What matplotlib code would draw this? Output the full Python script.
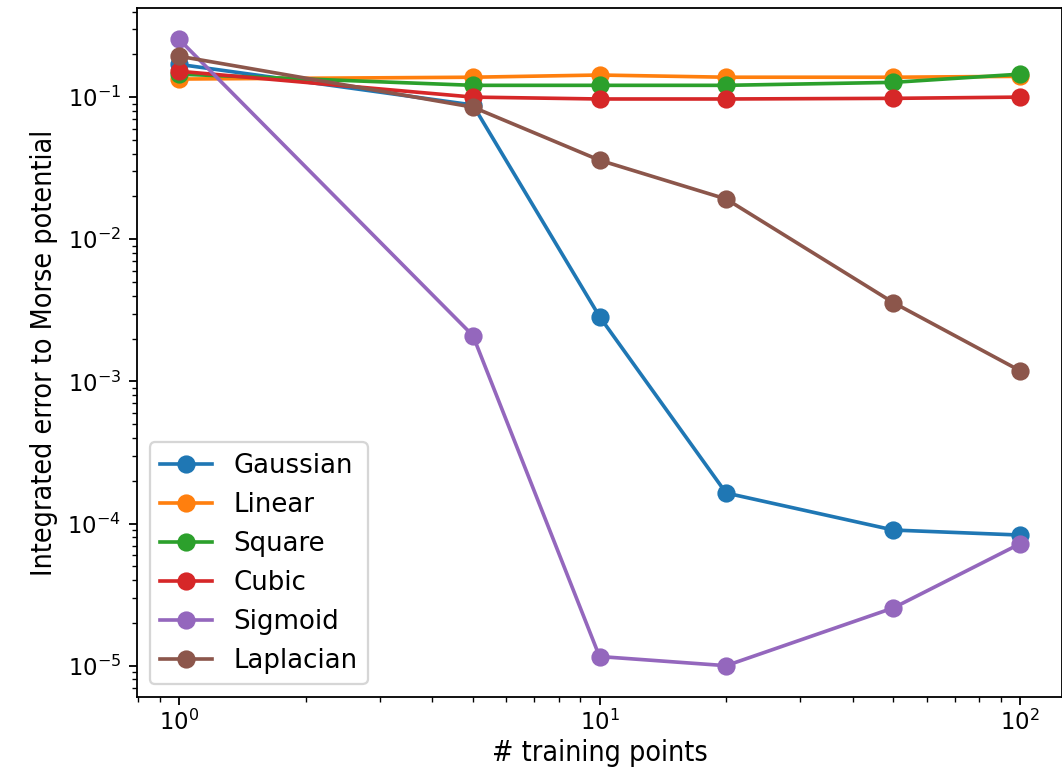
import numpy as np
import matplotlib
matplotlib.use("Agg")
import matplotlib.pyplot as plt

n_train = [1, 5, 10, 20, 50, 100]

gaussian = [0.17, 0.088, 0.00286, 1.64e-4, 9.0e-5, 8.3e-5]
linear = [0.134, 0.138, 0.143, 0.138, 0.138, 0.140]
square = [0.145, 0.121, 0.121, 0.121, 0.127, 0.145]
cubic = [0.152, 0.100, 0.097, 0.097, 0.098, 0.100]
sigmoid = [0.255, 0.0021, 1.16e-5, 1.0e-5, 2.55e-5, 7.2e-5]
laplacian = [0.194, 0.085, 0.036, 0.0192, 0.00358, 0.00119]

names = ["Gaussian", "Linear", "Square", "Cubic", "Sigmoid", "Laplacian"]
series = [gaussian, linear, square, cubic, sigmoid, laplacian]

fig = plt.figure(figsize=(1062 / 164, 778 / 164), dpi=164)
ax = fig.add_axes([137 / 1062, 1 - 697 / 778, (1062 - 137) / 1062, (697 - 8) / 778])

for name, vals in zip(names, series):
    ax.plot(n_train, vals, "o-", label=name, markersize=7, linewidth=1.6)

ax.set_xscale("log")
ax.set_yscale("log")
ax.tick_params(axis="x", which="major", pad=2)
ax.set_xlabel("# training points", fontsize=12.5, fontstretch="condensed", labelpad=2)
ax.set_ylabel("Integrated error to Morse potential", fontsize=12.5,
              fontstretch="condensed", labelpad=4)
ax.legend(loc="lower left", fontsize=11.4)

fig.savefig("out.png", dpi=164)
